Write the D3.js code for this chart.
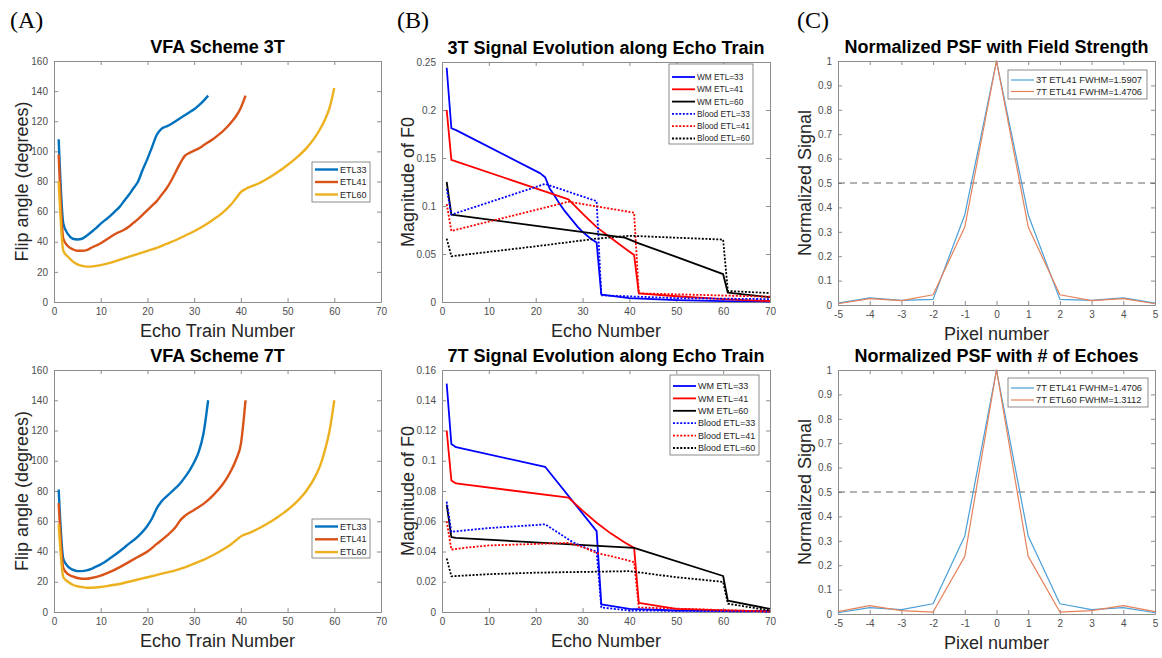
<!DOCTYPE html>
<html>
<head>
<meta charset="utf-8">
<script src="https://cdn.jsdelivr.net/npm/d3@7"></script>
<style>
body { margin: 0; background: #fff; }
svg { font-family: "Liberation Sans", Arial, sans-serif; }
</style>
</head>
<body>
<svg id="fig" width="1162" height="658"></svg>
<script>
// ---- (A) VFA schemes, flip angle vs echo train number ----
const a3x33 = [1,2,3,4,5,6,7,8,9,10,11,12,13,14,15,16,17,18,19,20,21,22,23,24,25,26,27,28,29,30,31,32,33];
const a3y33 = [108,52,45,42,41.5,42,44,46.5,49,52,54.5,57,60,63,67,71,75.5,80,88,95,103,111,115,116.5,118,120,122,124,126,128,130.5,133.5,137];
const a3x41 = [1,2,3,4,5,6,7,8,9,10,11,12,13,14,15,16,17,18,19,20,21,22,23,24,25,26,27,28,29,30,31,32,33,34,35,36,37,38,39,40,41];
const a3y41 = [98,42,37,35,34,34,34.5,36,37.5,39,41,43,45,46.5,48,50,52.5,55,58,61,64,67,71,75,80,86,92,97,99,100.5,102,104,106,108,110.5,113,116,119.5,123.5,129,137];
const a3x60 = [1,2,3,4,5,6,7,8,9,10,12,14,16,18,20,22,24,26,28,30,32,34,36,38,39,40,41,42,44,46,48,50,52,54,56,57,58,59,60];
const a3y60 = [80,34,30,27,25,24,23.5,23.5,24,24.5,26,28,30,32,34,36,38.5,41,44,47,50.5,54.5,59,65,69,73,75,76.5,79,82.5,86.5,91,96,102,110,115,121,129,142];

const a7x33 = [1,2,3,4,5,6,7,8,9,10,12,14,16,18,20,21,22,23,25,27,28,29,30,31,32,33];
const a7y33 = [81,35,30,28,27,27,27.5,28.5,30,31.5,35.5,40,45,50,57,62,68.5,73,79,85,89,93.5,99,106,118,140];
const a7x41 = [1,2,3,4,5,6,7,8,10,12,14,16,18,20,22,24,26,27,28,30,32,34,36,37,38,39,40,41];
const a7y41 = [72,29,25,23.5,22.5,22,22,22.5,24,26.5,29.5,33,36.5,40,45,50,56,60.5,63.5,67.5,71.5,77,84,88.5,94,101,111,140];
const a7x60 = [1,2,3,4,5,6,7,8,10,12,14,16,18,20,22,24,26,28,30,32,34,36,38,39,40,42,44,46,48,50,52,54,56,57,58,59,60];
const a7y60 = [58,23,20,18,17,16.5,16,16,16.5,17.5,18.5,20,21.5,23,24.5,26,27.5,29.5,32,34.5,37.5,41,45,47.5,50,52.5,55.5,59,63,67.5,73,80,90,97,107,120,140];

const etlNames = ['ETL33', 'ETL41', 'ETL60'];

// ---- (B) signal evolution, |F0| vs echo number ----
const b3wm33x = [1,2,3,21,22,23,24,25,26,27,28,29,30,31,32,33,34,40,50,60,70];
const b3wm33y = [0.244,0.181,0.179,0.134,0.130,0.118,0.111,0.103,0.096,0.090,0.084,0.078,0.073,0.069,0.065,0.062,0.0076,0.004,0.002,0.001,0.0005];
const b3wm41x = [1,2,27,30,33,36,39,41,42,50,60,70];
const b3wm41y = [0.2,0.148,0.107,0.092,0.078,0.067,0.056,0.049,0.009,0.006,0.003,0.001];
const b3wm60x = [1,2,39,42,50,60,61,70];
const b3wm60y = [0.125,0.091,0.067,0.061,0.047,0.029,0.0097,0.005];
const b3bl33x = [1,2,22,33,34,50,70];
const b3bl33y = [0.118,0.091,0.123,0.105,0.007,0.004,0.003];
const b3bl41x = [1,2,27,41,42,70];
const b3bl41y = [0.102,0.074,0.1045,0.093,0.009,0.0055];
const b3bl60x = [1,2,20,33,40,50,60,61,70];
const b3bl60y = [0.066,0.0476,0.058,0.066,0.069,0.067,0.065,0.0115,0.0093];

const b7wm33x = [1,2,3,22,33,34,40,50,70];
const b7wm33y = [0.151,0.111,0.109,0.096,0.0535,0.005,0.002,0.001,0.0005];
const b7wm41x = [1,2,3,27,30,33,36,39,41,42,50,60,70];
const b7wm41y = [0.12,0.087,0.085,0.0756,0.067,0.059,0.052,0.046,0.0424,0.006,0.002,0.001,0.0005];
const b7wm60x = [1,2,3,41,60,61,70];
const b7wm60y = [0.071,0.0495,0.049,0.0424,0.0238,0.0075,0.002];
const b7bl33x = [1,2,5,10,15,20,22,25,28,31,33,34,40,70];
const b7bl33y = [0.073,0.053,0.054,0.0555,0.0565,0.0575,0.058,0.052,0.046,0.042,0.040,0.003,0.001,0.0003];
const b7bl41x = [1,2,5,10,20,27,30,33,36,41,42,70];
const b7bl41y = [0.06,0.0413,0.0425,0.044,0.045,0.0457,0.043,0.039,0.037,0.033,0.003,0.0003];
const b7bl60x = [1,2,10,20,30,40,45,50,55,60,61,70];
const b7bl60y = [0.0354,0.0236,0.025,0.026,0.0265,0.027,0.025,0.023,0.0215,0.0199,0.0055,0.001];

const sigNames = ['WM ETL=33', 'WM ETL=41', 'WM ETL=60', 'Blood ETL=33', 'Blood ETL=41', 'Blood ETL=60'];

// ---- (C) normalized PSF ----
const pix = [-5,-4,-3,-2,-1,0,1,2,3,4,5];
const psf3T41 = [0.008,0.029,0.019,0.023,0.37,1,0.37,0.023,0.019,0.029,0.008];
const psf7T41 = [0.005,0.026,0.018,0.042,0.32,1,0.32,0.042,0.018,0.026,0.005];
const psf7T60 = [0.01,0.034,0.014,0.008,0.236,1,0.236,0.008,0.014,0.034,0.01];
const psfNamesTop = ['3T ETL41 FWHM=1.5907', '7T ETL41 FWHM=1.4706'];
const psfNamesBot = ['7T ETL41 FWHM=1.4706', '7T ETL60 FWHM=1.3112'];

const svg = d3.select('#fig');
const zip = (xs, ys) => xs.map((v, i) => [v, ys[i]]);
const fmt = d => String(+d.toFixed(3));

const cA = ['#0072BD', '#D95319', '#EDB120'];
const cB = ['#0000ff', '#ff0000', '#000000'];
const cC = ['#4a9fd8', '#e5825a'];

function panel(o) {
    let x = d3.scaleLinear().domain(o.xd).range([o.l, o.r]);
    let y = d3.scaleLinear().domain(o.yd).range([o.b, o.t]);
    let g = svg.append('g');

    //坐标轴, 四边都有向内的刻度
    let axes = [
        [d3.axisBottom(x).tickValues(o.xt), 'translate(0,' + o.b + ')', true],
        [d3.axisTop(x).tickValues(o.xt).tickFormat(''), 'translate(0,' + o.t + ')', false],
        [d3.axisLeft(y).tickValues(o.yt), 'translate(' + o.l + ',0)', true],
        [d3.axisRight(y).tickValues(o.yt).tickFormat(''), 'translate(' + o.r + ',0)', false]
    ];
    axes.forEach(([ax, tr, lab]) => {
        if (lab) ax.tickFormat(fmt);
        let a = g.append('g').attr('transform', tr)
            .call(ax.tickSize(-4).tickSizeOuter(0).tickPadding(6));
        a.select('.domain').attr('stroke', '#8c8c8c');
        a.selectAll('.tick line').attr('stroke', '#8c8c8c');
        a.selectAll('.tick text').attr('fill', '#4d4d4d').style('font-size', '10px');
    });

    if (o.half) {
        g.append('line').attr('x1', o.l).attr('x2', o.r)
            .attr('y1', y(0.5)).attr('y2', y(0.5))
            .attr('stroke', '#666').attr('stroke-width', 1).attr('stroke-dasharray', '7,5');
    }

    let line = d3.line().x(d => x(d[0])).y(d => y(d[1])).curve(o.curve || d3.curveLinear);
    g.selectAll('path.s').data(o.series).enter().append('path').attr('class', 's')
        .attr('d', d => line(d.pts)).attr('fill', 'none')
        .attr('stroke', d => d.color).attr('stroke-width', o.lw)
        .attr('stroke-dasharray', d => d.dash ? '2,1.6' : null)
        .attr('stroke-linejoin', 'round');

    // title and labels
    g.append('text').attr('x', (o.l + o.r) / 2).attr('y', o.t - 8)
        .attr('text-anchor', 'middle').style('font-size', '18px').style('font-weight', 'bold')
        .attr('fill', '#000').text(o.title);
    g.append('text').attr('x', (o.l + o.r) / 2).attr('y', o.b + 35)
        .attr('text-anchor', 'middle').style('font-size', '18px').attr('fill', '#262626').text(o.xlabel);
    g.append('text').attr('transform', 'translate(' + o.yl + ',' + (o.t + o.b) / 2 + ') rotate(-90)')
        .attr('text-anchor', 'middle').style('font-size', '18px').attr('fill', '#262626').text(o.ylabel);

    // legend
    let L = o.leg;
    let lg = g.append('g');
    lg.append('rect').attr('x', L.x).attr('y', L.y).attr('width', L.w).attr('height', L.h)
        .attr('fill', '#fff').attr('stroke', '#6e6e6e').attr('stroke-width', 0.8);
    o.series.forEach((s, i) => {
        let yy = L.y0 + i * L.dy;
        lg.append('line').attr('x1', L.x + 3).attr('x2', L.x + 26).attr('y1', yy).attr('y2', yy)
            .attr('stroke', s.color).attr('stroke-width', o.lw)
            .attr('stroke-dasharray', s.dash ? '2,1.6' : null);
        lg.append('text').attr('x', L.x + 28).attr('y', yy).attr('dy', '0.35em')
            .style('font-size', L.fs + 'px').attr('fill', '#262626').text(s.name);
    });
}

function panelLabel(txt, x) {
    svg.append('text').attr('x', x).attr('y', 28).text(txt)
        .style('font-family', '"Liberation Serif", "Times New Roman", serif')
        .style('font-size', '24px').attr('fill', '#000');
}

panelLabel('(A)', 10);
panelLabel('(B)', 397);
panelLabel('(C)', 797);

const echoTicks = d3.range(0, 71, 10);
const pixTicks = pix;

panel({
    l: 54, r: 381, t: 61, b: 302, xd: [0, 70], yd: [0, 160],
    xt: echoTicks, yt: d3.range(0, 161, 20), lw: 2.4, curve: d3.curveMonotoneX,
    title: 'VFA Scheme 3T', xlabel: 'Echo Train Number', ylabel: 'Flip angle (degrees)', yl: 28,
    series: [
        {name: etlNames[0], color: cA[0], pts: zip(a3x33, a3y33)},
        {name: etlNames[1], color: cA[1], pts: zip(a3x41, a3y41)},
        {name: etlNames[2], color: cA[2], pts: zip(a3x60, a3y60)}
    ],
    leg: {x: 312, y: 162, w: 58, h: 40, y0: 169.5, dy: 12.5, fs: 9}
});

panel({
    l: 54, r: 381, t: 370, b: 612, xd: [0, 70], yd: [0, 160],
    xt: echoTicks, yt: d3.range(0, 161, 20), lw: 2.4, curve: d3.curveMonotoneX,
    title: 'VFA Scheme 7T', xlabel: 'Echo Train Number', ylabel: 'Flip angle (degrees)', yl: 28,
    series: [
        {name: etlNames[0], color: cA[0], pts: zip(a7x33, a7y33)},
        {name: etlNames[1], color: cA[1], pts: zip(a7x41, a7y41)},
        {name: etlNames[2], color: cA[2], pts: zip(a7x60, a7y60)}
    ],
    leg: {x: 312, y: 519, w: 58, h: 39, y0: 526.5, dy: 12.8, fs: 9}
});

panel({
    l: 442, r: 770, t: 62, b: 302, xd: [0, 70], yd: [0, 0.25],
    xt: echoTicks, yt: d3.range(0, 0.2501, 0.05), lw: 1.8,
    title: '3T Signal Evolution along Echo Train', xlabel: 'Echo Number', ylabel: 'Magnitude of F0', yl: 414,
    series: [
        {name: sigNames[0], color: cB[0], pts: zip(b3wm33x, b3wm33y)},
        {name: sigNames[1], color: cB[1], pts: zip(b3wm41x, b3wm41y)},
        {name: sigNames[2], color: cB[2], pts: zip(b3wm60x, b3wm60y)},
        {name: sigNames[3], color: cB[0], dash: true, pts: zip(b3bl33x, b3bl33y)},
        {name: sigNames[4], color: cB[1], dash: true, pts: zip(b3bl41x, b3bl41y)},
        {name: sigNames[5], color: cB[2], dash: true, pts: zip(b3bl60x, b3bl60y)}
    ],
    leg: {x: 669, y: 64, w: 84, h: 80, y0: 77, dy: 12.3, fs: 8.3}
});

panel({
    l: 442, r: 770, t: 370, b: 612, xd: [0, 70], yd: [0, 0.16],
    xt: echoTicks, yt: d3.range(0, 0.1601, 0.02), lw: 1.8,
    title: '7T Signal Evolution along Echo Train', xlabel: 'Echo Number', ylabel: 'Magnitude of F0', yl: 414,
    series: [
        {name: sigNames[0], color: cB[0], pts: zip(b7wm33x, b7wm33y)},
        {name: sigNames[1], color: cB[1], pts: zip(b7wm41x, b7wm41y)},
        {name: sigNames[2], color: cB[2], pts: zip(b7wm60x, b7wm60y)},
        {name: sigNames[3], color: cB[0], dash: true, pts: zip(b7bl33x, b7bl33y)},
        {name: sigNames[4], color: cB[1], dash: true, pts: zip(b7bl41x, b7bl41y)},
        {name: sigNames[5], color: cB[2], dash: true, pts: zip(b7bl60x, b7bl60y)}
    ],
    leg: {x: 670, y: 375, w: 89, h: 80, y0: 386, dy: 12.4, fs: 9}
});

panel({
    l: 838, r: 1155, t: 61, b: 305, xd: [-5, 5], yd: [0, 1],
    xt: pixTicks, yt: d3.range(0, 1.001, 0.1), lw: 1.2, half: true,
    title: 'Normalized PSF with Field Strength', xlabel: 'Pixel number', ylabel: 'Normalized Signal', yl: 811,
    series: [
        {name: psfNamesTop[0], color: cC[0], pts: zip(pix, psf3T41)},
        {name: psfNamesTop[1], color: cC[1], pts: zip(pix, psf7T41)}
    ],
    leg: {x: 1008, y: 70, w: 139, h: 29, y0: 80, dy: 11.5, fs: 9.3}
});

panel({
    l: 838, r: 1155, t: 370, b: 614, xd: [-5, 5], yd: [0, 1],
    xt: pixTicks, yt: d3.range(0, 1.001, 0.1), lw: 1.2, half: true,
    title: 'Normalized PSF with # of Echoes', xlabel: 'Pixel number', ylabel: 'Normalized Signal', yl: 811,
    series: [
        {name: psfNamesBot[0], color: cC[0], pts: zip(pix, psf7T41)},
        {name: psfNamesBot[1], color: cC[1], pts: zip(pix, psf7T60)}
    ],
    leg: {x: 1008, y: 378, w: 140, h: 29, y0: 388, dy: 12, fs: 9.3}
});
</script>
</body>
</html>
